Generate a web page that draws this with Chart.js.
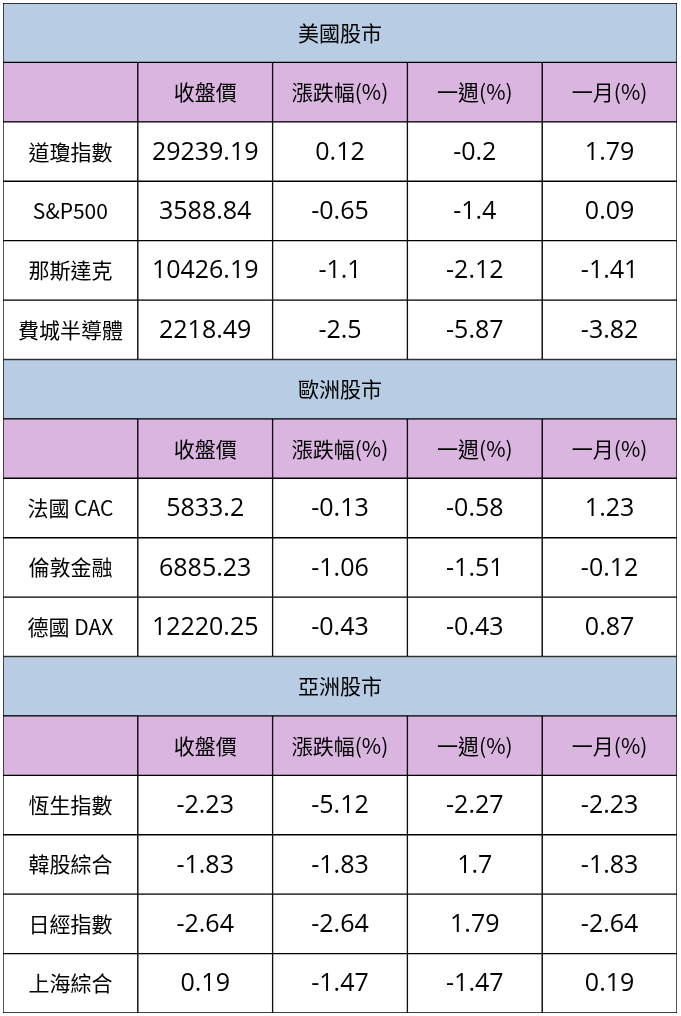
<!DOCTYPE html>
<html><head><meta charset="utf-8">
<script src="https://cdn.jsdelivr.net/npm/chart.js@4"></script>
<style>html,body{margin:0;padding:0;background:#fff}</style>
</head><body>
<canvas id="c" width="681" height="1016"></canvas>
<script>
// 表頭與各區塊資料
const sections = ["美國股市", "歐洲股市", "亞洲股市"];
const columns = ["收盤價", "漲跌幅(%)", "一週(%)", "一月(%)"];

const usNames = ["道瓊指數", "S&P500", "那斯達克", "費城半導體"];
const usValues = [
  ["29239.19", "0.12", "-0.2", "1.79"],
  ["3588.84", "-0.65", "-1.4", "0.09"],
  ["10426.19", "-1.1", "-2.12", "-1.41"],
  ["2218.49", "-2.5", "-5.87", "-3.82"],
];
const euNames = ["法國 CAC", "倫敦金融", "德國 DAX"];
const euValues = [
  ["5833.2", "-0.13", "-0.58", "1.23"],
  ["6885.23", "-1.06", "-1.51", "-0.12"],
  ["12220.25", "-0.43", "-0.43", "0.87"],
];
const asNames = ["恆生指數", "韓股綜合", "日經指數", "上海綜合"];
const asValues = [
  ["-2.23", "-5.12", "-2.27", "-2.23"],
  ["-1.83", "-1.83", "1.7", "-1.83"],
  ["-2.64", "-2.64", "1.79", "-2.64"],
  ["0.19", "-1.47", "-1.47", "0.19"],
];

const SECTION_BG = "#b8cce4";
const HEADER_BG = "#d9b5df";
const CJK = '"Noto Sans CJK TC", "Noto Sans", sans-serif';

// 把區塊展開成一列一列
const rows = [];
[[usNames, usValues], [euNames, euValues], [asNames, asValues]].forEach(([names, vals], i) => {
  rows.push({ type: "section", cells: [sections[i]] });
  rows.push({ type: "header", cells: ["", ...columns] });
  names.forEach((n, j) => rows.push({ type: "data", cells: [n, ...vals[j]] }));
});
const labels = rows.map((_, i) => i);

// 每一欄一個 dataset，區塊標題列只在第 0 個 dataset 橫跨整列
const datasets = [0, 1, 2, 3, 4].map((c) => ({
  data: rows.map((r) => (r.type === "section" ? (c === 0 ? [0, 5] : null) : [c, c + 1])),
  backgroundColor: rows.map((r) => (r.type === "section" ? SECTION_BG : r.type === "header" ? HEADER_BG : "#ffffff")),
  borderColor: "#000",
  borderWidth: 1,
  borderSkipped: false,
  grouped: false,
  barPercentage: 1,
  categoryPercentage: 1,
}));

const cellText = {
  id: "cellText",
  afterDatasetsDraw(chart) {
    const { ctx, scales: { x, y } } = chart;
    ctx.save();
    ctx.fillStyle = "#000";
    ctx.textAlign = "center";
    ctx.textBaseline = "middle";
    rows.forEach((r, i) => {
      const py = y.getPixelForValue(i);
      if (r.type === "section") {
        ctx.font = "21px " + CJK;
        ctx.fillText(r.cells[0], x.getPixelForValue(2.5), py);
        return;
      }
      r.cells.forEach((t, c) => {
        if (!t) return;
        const isNum = r.type === "data" && c > 0;
        ctx.font = isNum ? '25px "Open Sans", sans-serif' : "21px " + CJK;
        ctx.fillText(t, x.getPixelForValue(c + 0.5), py + (isNum ? 1 : 0));
      });
    });
    ctx.restore();
  },
};

new Chart(document.getElementById("c"), {
  type: "bar",
  data: { labels, datasets },
  options: {
    indexAxis: "y",
    responsive: false,
    animation: false,
    layout: { padding: { left: 3, right: 4, top: 3, bottom: 3 } },
    scales: {
      x: { type: "linear", min: 0, max: 5, display: false },
      y: { display: false },
    },
    plugins: { legend: { display: false }, tooltip: { enabled: false } },
  },
  plugins: [cellText],
});
</script>
</body></html>
